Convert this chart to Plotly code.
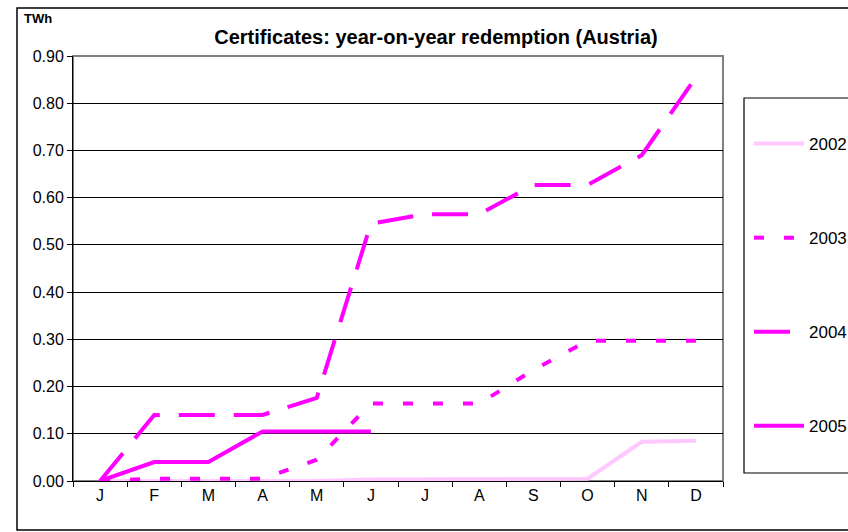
import plotly.graph_objects as go

months = ["Jan", "Feb", "Mar", "Apr", "May", "Jun", "Jul", "Aug", "Sep", "Oct", "Nov", "Dec"]
tick_labels = ["J", "F", "M", "A", "M", "J", "J", "A", "S", "O", "N", "D"]

s2002 = [0, 0, 0, 0, 0, 0.003, 0.003, 0.003, 0.004, 0.005, 0.083, 0.085]
s2003 = [0, 0.005, 0.005, 0.005, 0.045, 0.164, 0.164, 0.164, 0.235, 0.297, 0.297, 0.297]
s2004 = [0, 0.14, 0.14, 0.14, 0.176, 0.545, 0.565, 0.565, 0.627, 0.627, 0.69, 0.855]
s2005 = [0, 0.04, 0.04, 0.105, 0.105, 0.105]

W, H = 848, 532
# plot area in pixel coordinates
L, R, T, B = 73, 723, 56, 481


def px_x(p):
    return (p - L) / (R - L)


def px_y(p):
    return (B - p) / (B - T)


xi = list(range(12))
fig = go.Figure()
fig.add_trace(go.Scatter(x=xi, y=s2002, name="2002", mode="lines", legendgroup="a",
                         line=dict(color="#FFC8FF", width=4)))
fig.add_trace(go.Scatter(x=xi, y=s2003, name="2003", mode="lines", legendgroup="b",
                         line=dict(color="#FF00FF", width=4, dash="10px,20px")))
fig.add_trace(go.Scatter(x=xi, y=s2004, name="2004", mode="lines", legendgroup="c",
                         line=dict(color="#FF00FF", width=4, dash="36px,19px")))
fig.add_trace(go.Scatter(x=xi[:len(s2005)], y=s2005, name="2005", mode="lines", legendgroup="d",
                         line=dict(color="#FF00FF", width=4)))

font = "Liberation Sans, Arial, sans-serif"

fig.update_layout(
    width=W, height=H,
    margin=dict(l=L, r=W - R, t=T, b=H - B, autoexpand=False),
    paper_bgcolor="white", plot_bgcolor="white",
    font=dict(family=font, size=16, color="black"),
    title=dict(text="<b>Certificates: year-on-year redemption (Austria)</b>",
               x=px_x(436), xref="paper", xanchor="center",
               y=1 - 37 / H, yref="container", yanchor="middle",
               font=dict(family=font, size=20, color="black")),
    showlegend=True,
    legend=dict(x=px_x(749), y=px_y(126), xanchor="left", yanchor="top",
                bgcolor="rgba(0,0,0,0)", borderwidth=0,
                tracegroupgap=69, itemwidth=50,
                font=dict(family=font, size=17, color="black")),
    xaxis=dict(range=[-0.5, 11.5], tickmode="array", tickvals=xi, ticktext=tick_labels,
               ticks="", showgrid=False, zeroline=False, showline=True,
               linecolor="black", linewidth=1,
               minor=dict(tickmode="array", tickvals=[i - 0.5 for i in range(13)],
                          ticks="outside", ticklen=5, tickcolor="black", showgrid=False),
               fixedrange=True),
    yaxis=dict(range=[0, 0.9], dtick=0.1, tickformat=".2f", ticks="outside", ticklen=5,
               tickcolor="black", showgrid=True, gridcolor="black", gridwidth=1,
               zeroline=False, showline=True, linecolor="black", linewidth=1,
               fixedrange=True),
    annotations=[dict(text="<b>TWh</b>", xref="paper", yref="paper",
                      x=px_x(22), y=px_y(18), xanchor="left", yanchor="middle",
                      showarrow=False, font=dict(family=font, size=13, color="black"))],
    shapes=[
        # outer chart frame
        dict(type="rect", xref="paper", yref="paper", x0=px_x(17), x1=px_x(870),
             y0=px_y(530), y1=px_y(8), line=dict(color="black", width=1.5), layer="below"),
        # plot area frame (top/right grey)
        dict(type="rect", xref="paper", yref="paper", x0=0, x1=1, y0=0, y1=1,
             line=dict(color="#808080", width=2), layer="below"),
        # legend frame
        dict(type="rect", xref="paper", yref="paper", x0=px_x(744), x1=px_x(870),
             y0=px_y(473), y1=px_y(98), line=dict(color="black", width=1.2)),
    ],
)

fig.write_html(
    "out.html",
    config={"displayModeBar": False},
    post_script="document.body.style.margin='0';document.body.style.overflow='hidden';",
)
